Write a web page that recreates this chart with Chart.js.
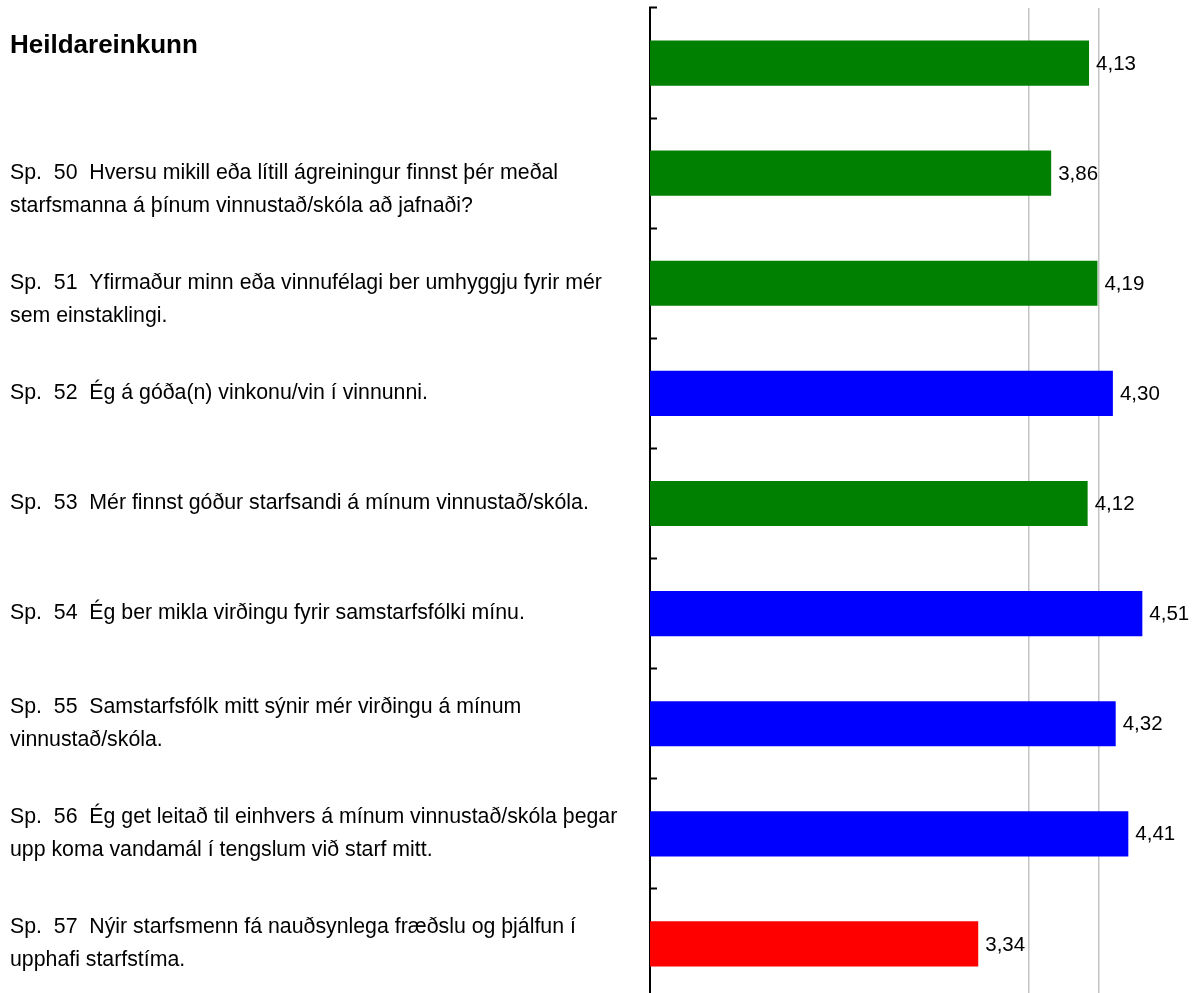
<!DOCTYPE html>
<html>
<head>
<meta charset="utf-8">
<script src="https://cdn.jsdelivr.net/npm/chart.js@4"></script>
<style>
  html, body { margin: 0; padding: 0; background: #fff; overflow: hidden; }
  #wrap { width: 1192px; height: 993px; overflow: hidden; }
</style>
</head>
<body>
<div id="wrap"><canvas id="chart" width="1192" height="1000"></canvas></div>
<script>
// questions, top to bottom
const questions = [
  ["Heildareinkunn"],
  ["Sp.  50  Hversu mikill eða lítill ágreiningur finnst þér meðal", "starfsmanna á þínum vinnustað/skóla að jafnaði?"],
  ["Sp.  51  Yfirmaður minn eða vinnufélagi ber umhyggju fyrir mér", "sem einstaklingi."],
  ["Sp.  52  Ég á góða(n) vinkonu/vin í vinnunni."],
  ["Sp.  53  Mér finnst góður starfsandi á mínum vinnustað/skóla."],
  ["Sp.  54  Ég ber mikla virðingu fyrir samstarfsfólki mínu."],
  ["Sp.  55  Samstarfsfólk mitt sýnir mér virðingu á mínum", "vinnustað/skóla."],
  ["Sp.  56  Ég get leitað til einhvers á mínum vinnustað/skóla þegar", "upp koma vandamál í tengslum við starf mitt."],
  ["Sp.  57  Nýir starfsmenn fá nauðsynlega fræðslu og þjálfun í", "upphafi starfstíma."]
];
const scores = [4.13, 3.86, 4.19, 4.30, 4.12, 4.51, 4.32, 4.41, 3.34];
// reference lines
const limits = [3.7, 4.2];

function barColor(v) {
  if (v < limits[0]) return "#ff0000";
  if (v <= limits[1]) return "#008000";
  return "#0000ff";
}

const valueLabels = {
  id: "valueLabels",
  afterDatasetsDraw(chart) {
    const ctx = chart.ctx;
    const meta = chart.getDatasetMeta(0);
    ctx.save();
    ctx.font = "20.5px 'Liberation Sans', Arial, sans-serif";
    ctx.fillStyle = "#000";
    ctx.textAlign = "left";
    ctx.textBaseline = "middle";
    meta.data.forEach((bar, i) => {
      ctx.fillText(scores[i].toFixed(2).replace(".", ","), bar.x + 7, bar.y + 1);
    });
    ctx.restore();
  }
};

const labelFont = "'Liberation Sans', Arial, sans-serif";

new Chart(document.getElementById("chart"), {
  type: "bar",
  data: {
    labels: questions,
    datasets: [{
      data: scores,
      backgroundColor: scores.map(barColor),
      barPercentage: 0.41,
      categoryPercentage: 1
    }]
  },
  options: {
    indexAxis: "y",
    responsive: false,
    animation: false,
    devicePixelRatio: 1,
    layout: { padding: { left: 10, top: 8, right: 0, bottom: 1 } },
    plugins: { legend: { display: false }, tooltip: { enabled: false } },
    scales: {
      x: {
        min: 1,
        max: 4.864,
        afterBuildTicks(scale) { scale.ticks = limits.map(v => ({ value: v })); },
        afterFit(scale) { scale.height = 0; scale.paddingLeft = 0; scale.paddingRight = 0; },
        ticks: { display: false },
        border: { display: false },
        grid: { color: "#c4c4c4", lineWidth: 1.5, drawTicks: false }
      },
      y: {
        afterFit(scale) { scale.width = 640; scale.paddingTop = 0; scale.paddingBottom = 0; },
        afterTickToLabelConversion(scale) {
          // nudge a few labels vertically like in the original sheet
          scale.ticks.forEach((t, i) => {
            if (i === 0) t.label = t.label.concat([""]);
            if (i === 1 || i === 2) t.label = [""].concat(t.label);
          });
        },
        ticks: {
          crossAlign: "far",
          color: "#000",
          font: (c) => c.index === 0
            ? { family: labelFont, size: 26, weight: "bold", lineHeight: "34px" }
            : { family: labelFont, size: 21.3, lineHeight: "33px" }
        },
        border: { display: true, color: "#000", width: 2 },
        grid: { drawOnChartArea: false, drawTicks: true, tickLength: -7, tickColor: "#000", tickWidth: 2, color: "#000" }
      }
    }
  },
  plugins: [valueLabels]
});
</script>
</body>
</html>
